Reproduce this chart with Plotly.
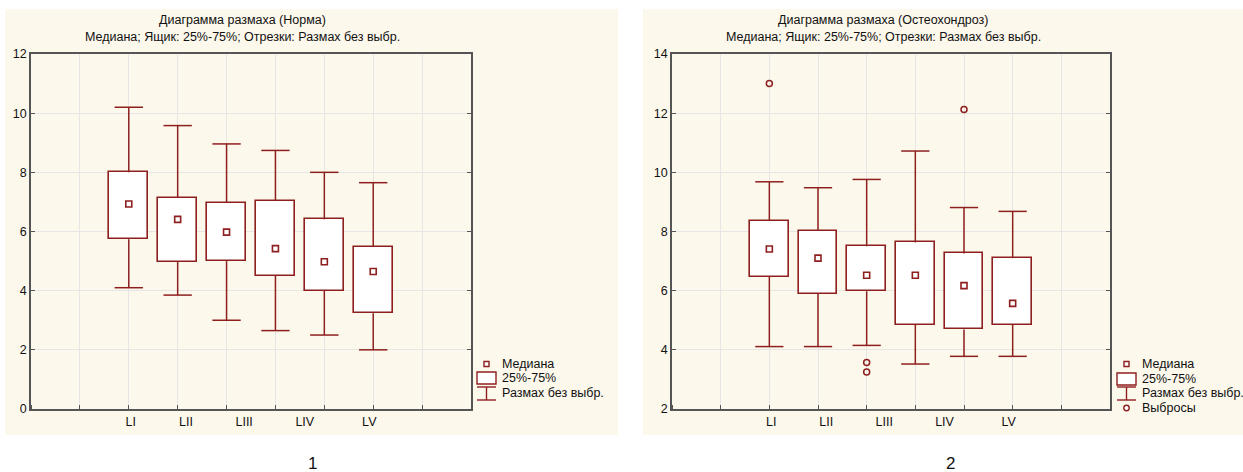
import plotly.graph_objects as go

# ---------------- data ----------------
CATEGORIES = ["LI", "LII", "LIII", "LIV", "LV"]

# Норма (6 boxes)
N_LOW = [4.10, 3.85, 3.00, 2.65, 2.50, 2.00]
N_Q1 = [5.74, 4.98, 5.00, 4.50, 4.00, 3.24]
N_MED = [6.93, 6.41, 5.98, 5.42, 4.98, 4.65]
N_Q3 = [8.00, 7.14, 6.98, 7.03, 6.41, 5.49]
N_HIGH = [10.20, 9.58, 8.96, 8.74, 8.00, 7.65]

# Остеохондроз (6 boxes)
O_LOW = [4.11, 4.11, 4.15, 3.52, 3.78, 3.78]
O_Q1 = [6.47, 5.90, 5.98, 4.84, 4.69, 4.84]
O_MED = [7.41, 7.10, 6.52, 6.52, 6.17, 5.57]
O_Q3 = [8.36, 8.02, 7.50, 7.63, 7.26, 7.10]
O_HIGH = [9.68, 9.48, 9.76, 10.72, 8.81, 8.68]
O_OUT_GROUP = [0, 2, 2, 4]
O_OUT_VAL = [13.00, 3.57, 3.25, 12.12]

LEGEND_TEXT = ["Медиана", "25%-75%", "Размах без выбр.", "Выбросы"]

# ---------------- style / layout constants ----------------
BOX_POS = [2, 3, 4, 5, 6, 7]
LABEL_POS = [2.04, 3.17, 4.36, 5.60, 6.92]
RED = "#8e1f1f"
CREAM = "#fdf8ec"
GRID = "#e6e6e6"
AXIS = "#555555"
TXT = "#111111"
FONT = "Liberation Sans, Arial, sans-serif"
BOX_W = 0.8
CAP_HALF = 0.29
W, H = 1243, 472


def px_x(v):
    return v / W


def px_y(v):
    return 1 - v / H


fig = go.Figure()


def add_group(low, q1, med, q3, high, xa, ya, outliers=None):
    wx, wy = [], []
    for p, lo, a, b, hi in zip(BOX_POS, low, q1, q3, high):
        wx += [p, p, None, p, p, None, p - CAP_HALF, p + CAP_HALF, None, p - CAP_HALF, p + CAP_HALF, None]
        wy += [b, hi, None, lo, a, None, hi, hi, None, lo, lo, None]
    fig.add_trace(go.Bar(
        x=BOX_POS, base=q1, y=[b - a for a, b in zip(q1, q3)], width=BOX_W,
        name="25%-75%", marker=dict(color="white", line=dict(color=RED, width=1.6)),
        xaxis=xa, yaxis=ya, showlegend=False, hoverinfo="skip"))
    fig.add_trace(go.Scatter(
        x=wx, y=wy, mode="lines", name="Размах без выбр.",
        line=dict(color=RED, width=1.5), xaxis=xa, yaxis=ya, showlegend=False,
        hoverinfo="skip"))
    fig.add_trace(go.Scatter(
        x=BOX_POS, y=med, mode="markers", name="Медиана",
        marker=dict(symbol="square-open", size=6, color=RED, line=dict(width=1.6, color=RED)),
        xaxis=xa, yaxis=ya, showlegend=False, hoverinfo="skip"))
    if outliers is not None:
        gx = [BOX_POS[g] for g in outliers[0]]
        fig.add_trace(go.Scatter(
            x=gx, y=outliers[1], mode="markers", name="Выбросы",
            marker=dict(symbol="circle-open", size=6, color=RED, line=dict(width=1.5, color=RED)),
            xaxis=xa, yaxis=ya, showlegend=False, hoverinfo="skip"))


add_group(N_LOW, N_Q1, N_MED, N_Q3, N_HIGH, "x", "y")
add_group(O_LOW, O_Q1, O_MED, O_Q3, O_HIGH, "x2", "y2",
          outliers=(O_OUT_GROUP, O_OUT_VAL))

xcommon = dict(
    range=[0, 9], tickvals=LABEL_POS, ticktext=CATEGORIES, ticks="", showgrid=False,
    showline=True, linecolor=AXIS, linewidth=1.5, mirror=True, zeroline=False,
    tickfont=dict(size=12.5, color=TXT, family=FONT), automargin=False,
    minor=dict(tick0=0, dtick=1, ticks="inside", ticklen=4, tickcolor=AXIS,
               showgrid=True, gridcolor=GRID, gridwidth=1),
    fixedrange=True,
)
ycommon = dict(
    ticks="inside", ticklen=4, tickcolor=AXIS, showgrid=True, gridcolor=GRID,
    showline=True, linecolor=AXIS, linewidth=1.5, mirror="allticks", zeroline=False,
    tickfont=dict(size=12.5, color=TXT, family=FONT), fixedrange=True, dtick=2,
    automargin=False,
)

YD = [px_y(409), px_y(54)]

fig.update_layout(
    width=W, height=H, margin=dict(l=0, r=0, t=0, b=0, autoexpand=False),
    paper_bgcolor="white", plot_bgcolor="white",
    font=dict(family=FONT, size=12.5, color=TXT),
    bargap=0, barmode="overlay", showlegend=False,
    xaxis=dict(domain=[px_x(31), px_x(471)], anchor="y", **xcommon),
    yaxis=dict(domain=YD, anchor="x", range=[0, 12], **ycommon),
    xaxis2=dict(domain=[px_x(672), px_x(1110)], anchor="y2", **xcommon),
    yaxis2=dict(domain=YD, anchor="x2", range=[2, 14], **ycommon),
)

# cream panels
for x0, x1 in [(5, 618), (643, 1243)]:
    fig.add_shape(type="rect", xref="paper", yref="paper",
                  x0=px_x(x0), x1=px_x(x1), y0=px_y(435), y1=px_y(9),
                  fillcolor=CREAM, line=dict(width=0), layer="below")


# manual legends (icons + text)
def legend(ix0, ix1, tx, rows, n):
    cx = (ix0 + ix1) / 2
    lw = dict(color=RED, width=1.4)
    # median icon
    fig.add_shape(type="rect", xref="paper", yref="paper",
                  x0=px_x(cx - 2.5), x1=px_x(cx + 2.5), y0=px_y(rows[0] + 2.5), y1=px_y(rows[0] - 2.5),
                  line=lw, fillcolor="white")
    # box icon
    fig.add_shape(type="rect", xref="paper", yref="paper",
                  x0=px_x(ix0), x1=px_x(ix1), y0=px_y(rows[1] + 6), y1=px_y(rows[1] - 6),
                  line=lw, fillcolor="white")
    # whisker icon
    top, bot = rows[2] - 6, rows[2] + 7
    for yy in (top, bot):
        fig.add_shape(type="line", xref="paper", yref="paper",
                      x0=px_x(ix0), x1=px_x(ix1), y0=px_y(yy), y1=px_y(yy), line=lw)
    fig.add_shape(type="line", xref="paper", yref="paper",
                  x0=px_x(cx), x1=px_x(cx), y0=px_y(top), y1=px_y(bot), line=lw)
    if n == 4:
        fig.add_shape(type="circle", xref="paper", yref="paper",
                      x0=px_x(cx - 2.7), x1=px_x(cx + 2.7), y0=px_y(rows[3] + 2.7), y1=px_y(rows[3] - 2.7),
                      line=lw, fillcolor="white")
    for i in range(n):
        fig.add_annotation(x=px_x(tx), y=px_y(rows[i]), xref="paper", yref="paper",
                           text=LEGEND_TEXT[i], showarrow=False, xanchor="left", yanchor="middle",
                           font=dict(size=12.5, color=TXT))


legend(477, 496, 500, [364, 378, 393], 3)
legend(1117, 1136, 1140, [364, 379, 393, 408], 4)

# titles
for cx, t in [(242, "Диаграмма размаха (Норма)"), (883, "Диаграмма размаха (Остеохондроз)")]:
    fig.add_annotation(x=px_x(cx), y=px_y(20), xref="paper", yref="paper", text=t,
                       showarrow=False, font=dict(size=12.5, color=TXT),
                       xanchor="center", yanchor="middle")
    fig.add_annotation(x=px_x(cx), y=px_y(37), xref="paper", yref="paper",
                       text="Медиана; Ящик: 25%-75%; Отрезки: Размах без выбр.",
                       showarrow=False, font=dict(size=12.5, color=TXT),
                       xanchor="center", yanchor="middle")

for cx, t in [(312, "1"), (950, "2")]:
    fig.add_annotation(x=px_x(cx), y=px_y(463), xref="paper", yref="paper", text=t,
                       showarrow=False, font=dict(size=17, color=TXT),
                       xanchor="center", yanchor="middle")

fig.write_html(
    "out.html",
    config={"displayModeBar": False},
    post_script="document.body.style.margin='0';document.body.style.overflow='hidden';",
)
